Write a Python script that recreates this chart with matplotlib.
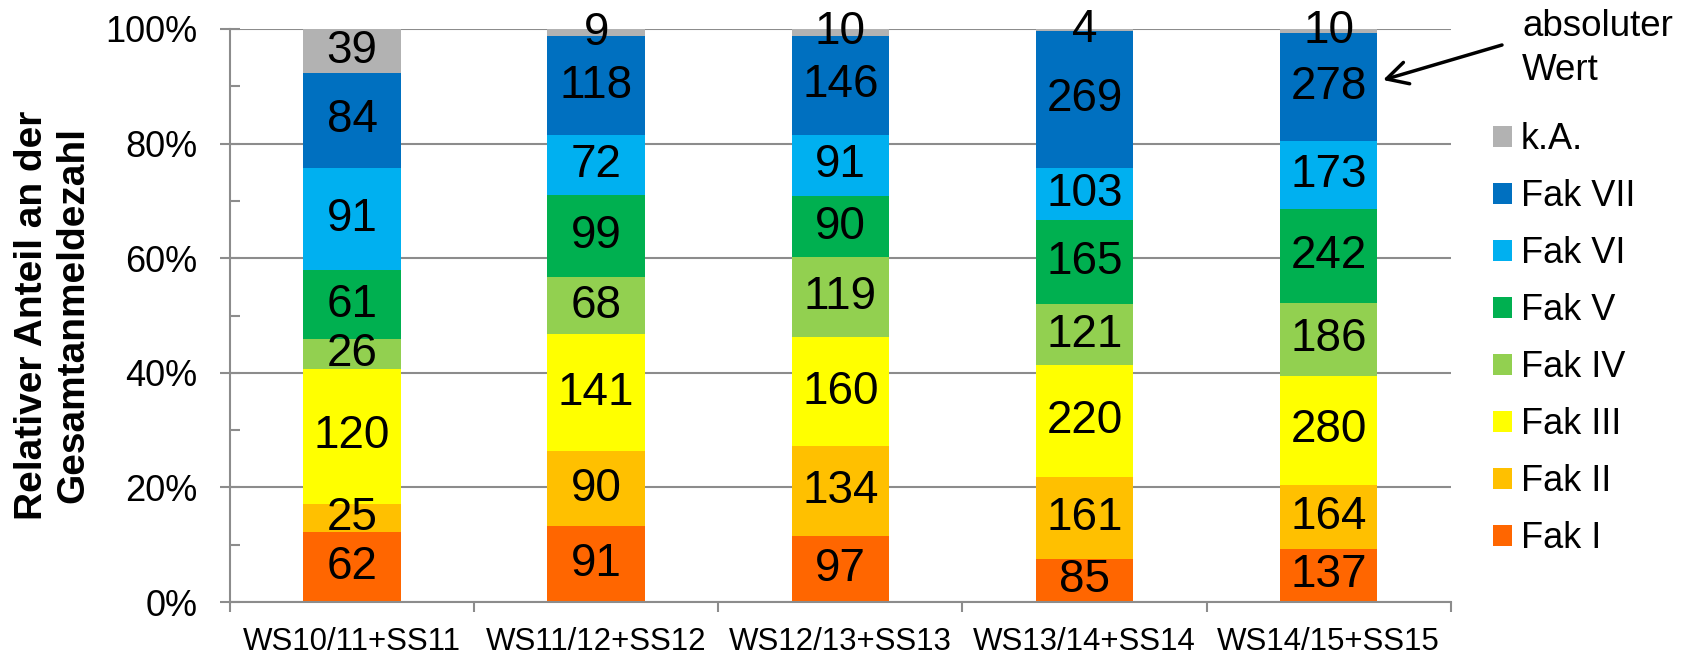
import matplotlib
matplotlib.use("Agg")
import matplotlib.pyplot as plt
import numpy as np
from matplotlib.ticker import MultipleLocator, FixedLocator, PercentFormatter

plt.rcParams['font.family'] = ['Liberation Sans', 'DejaVu Sans']

categories = ["WS10/11+SS11", "WS11/12+SS12", "WS12/13+SS13", "WS13/14+SS14", "WS14/15+SS15"]
series_names = ["Fak I", "Fak II", "Fak III", "Fak IV", "Fak V", "Fak VI", "Fak VII", "k.A."]
fak_i = [62, 91, 97, 85, 137]
fak_ii = [25, 90, 134, 161, 164]
fak_iii = [120, 141, 160, 220, 280]
fak_iv = [26, 68, 119, 121, 186]
fak_v = [61, 99, 90, 165, 242]
fak_vi = [91, 72, 91, 103, 173]
fak_vii = [84, 118, 146, 269, 278]
k_a = [39, 9, 10, 4, 10]
colors = ["#FF6600", "#FFC000", "#FFFF00", "#92D050", "#00B050", "#00B0F0", "#0070C0", "#B2B2B2"]

values = np.array([fak_i, fak_ii, fak_iii, fak_iv, fak_v, fak_vi, fak_vii, k_a], dtype=float)
totals = values.sum(axis=0)
shares = values / totals * 100

W, H = 1692, 654
fig = plt.figure(figsize=(W / 100, H / 100), dpi=100)
ax = fig.add_axes([230 / W, 1 - 602 / H, (1450.7 - 230) / W, (602 - 29) / H])

x = np.arange(len(categories))
bottom = np.zeros(len(categories))
handles = []
for i, name in enumerate(series_names):
    bars = ax.bar(x, shares[i], 0.4, bottom=bottom, color=colors[i], label=name, zorder=2)
    handles.append(bars)
    for j in range(len(categories)):
        ax.text(x[j], bottom[j] + shares[i][j] / 2, f"{int(values[i][j])}",
                ha='center', va='center', fontsize=33, color='black', zorder=3)
    bottom += shares[i]

grid_col = '#8C8C8C'
ax.set_xlim(-0.5, len(categories) - 0.5)
ax.set_ylim(0, 100)
ax.yaxis.set_major_locator(MultipleLocator(20))
ax.yaxis.set_minor_locator(MultipleLocator(10))
ax.yaxis.set_major_formatter(PercentFormatter(decimals=0))
ax.grid(axis='y', which='major', color=grid_col, linewidth=1.5, zorder=0)
ax.set_axisbelow(True)

ax.set_xticks(x)
ax.set_xticklabels(categories, fontsize=22.5)
ax.xaxis.set_minor_locator(FixedLocator(np.arange(-0.5, len(categories), 1.0)))
ax.tick_params(axis='x', which='major', length=0, pad=18)
ax.tick_params(axis='x', which='minor', direction='out', length=7.5, width=1.5, color=grid_col)
ax.tick_params(axis='y', which='major', direction='inout', length=14.5, width=1.5,
               color=grid_col, labelsize=26, pad=16)
ax.tick_params(axis='y', which='minor', direction='in', length=7, width=1.5, color=grid_col)

for s in ['top', 'right']:
    ax.spines[s].set_visible(False)
for s in ['left', 'bottom']:
    ax.spines[s].set_color(grid_col)
    ax.spines[s].set_linewidth(1.5)

fig.text(53 / W, 1 - 315 / H, "Relativer Anteil an der\nGesamtanmeldezahl", fontsize=28,
         fontweight='bold', rotation=90, ha='center', va='center', multialignment='center',
         linespacing=1.2)

leg = ax.legend(handles[::-1], series_names[::-1], loc='upper left',
                bbox_to_anchor=(1493 / W, 1 - 122 / H), bbox_transform=fig.transFigure,
                frameon=False, fontsize=26, handlelength=0.52, handleheight=0.52,
                handletextpad=0.25, labelspacing=0.61, borderpad=0, borderaxespad=0)

fig.text(1522 / W, 1 - 9 / H, "absoluter\nWert", fontsize=26.5, ha='left', va='top',
         linespacing=1.35)
ax.annotate("", xy=(1383 / W, 1 - 80 / H), xycoords='figure fraction',
            xytext=(1502 / W, 1 - 45 / H), textcoords='figure fraction',
            arrowprops=dict(arrowstyle='->,head_length=0.75,head_width=0.4', lw=2.5,
                            color='black', mutation_scale=20, shrinkA=0, shrinkB=0),
            annotation_clip=False)

fig.savefig("out.png", dpi=100)
